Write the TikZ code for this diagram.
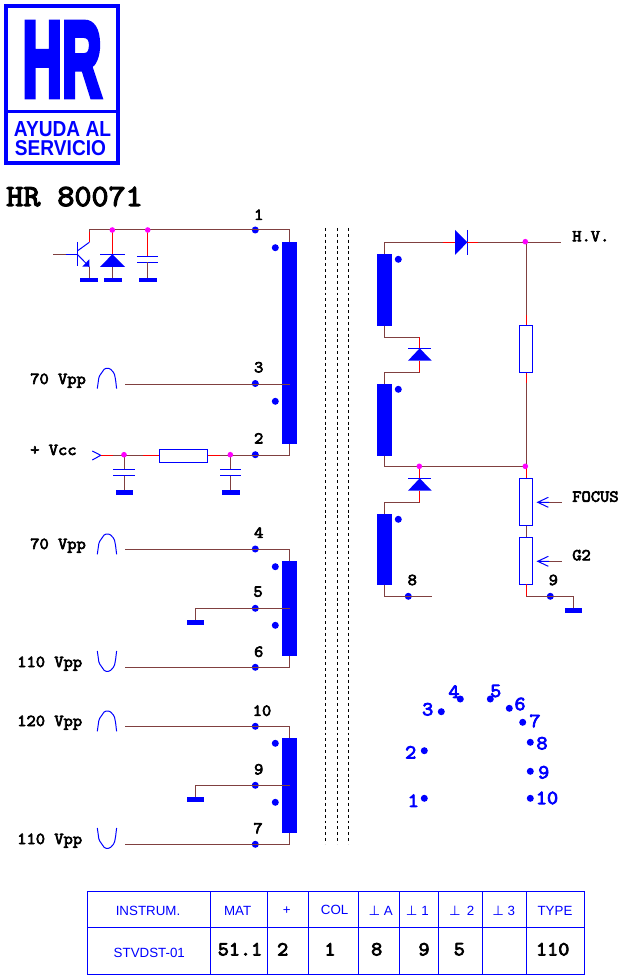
\documentclass[tikz,border=0pt]{standalone}
\usepackage{fontspec}
\setmainfont{Liberation Sans}
\setmonofont[FakeBold=4,FakeStretch=1.08]{Latin Modern Mono}
\newfontfamily\logofont[UprightFont=* Bold,FakeBold=6]{Liberation Sans}
\newfontfamily\perpfont{DejaVu Sans}
\definecolor{wirebrown}{RGB}{128,64,64}
\definecolor{jointpink}{RGB}{255,0,255}
\tikzset{
	wire/.style={line width=0.75pt, color=wirebrown},
	hot/.style={line width=0.75pt, color=red},
	part/.style={line width=0.75pt, color=blue},
	coil/.style={fill=blue, draw=none},
	resistor/.style={line width=0.75pt, draw=blue, fill=white},
	label/.style={font=\ttfamily\fontsize{12.5}{12.5}\selectfont, anchor=base west, inner sep=0pt},
	pinlabel/.style={font=\ttfamily\fontsize{12.5}{12.5}\selectfont, inner sep=0pt},
	socket/.style={font=\ttfamily\fontsize{15}{15}\selectfont, color=blue, inner sep=0pt},
	head/.style={font=\fontsize{10}{10}\selectfont, color=blue, inner sep=0pt},
	cell/.style={font=\ttfamily\fontsize{15}{15}\selectfont, inner sep=0pt},
	isolation/.style={line width=0.75pt, dash pattern=on 2.2pt off 2.2pt}
}
\def\pindot(#1,#2){\fill[blue] (#1,#2) circle (3.5);}
\def\joint(#1,#2){\fill[jointpink] (#1,#2) circle (2.8);}
\def\earth(#1,#2,#3){\fill[blue] (#1,#2) rectangle (#3,#2+4.5);}
\def\pulseup(#1,#2){\draw[part,shift={(#1,#2)},rounded corners=1] (0,20.3) -- (1.7,8.3) -- (7.5,0) -- (12.5,0) -- (17,5) -- (18.3,11.7) -- (19.3,20.3);}
\def\pulsedown(#1,#2){\draw[part,shift={(#1,#2)},rounded corners=1] (0,0) -- (1.7,12) -- (7.5,20.3) -- (12.5,20.3) -- (17,15.3) -- (18.3,8.6) -- (19.3,0);}

\begin{document}
\begin{tikzpicture}[x=0.75pt,y=-0.75pt]
	\useasboundingbox (0,0) rectangle (626,980);
	%%%%% LOGO %%%%%
	
	\draw[line width=2.6pt, color=blue] (5.8,5.8) rectangle (118,163.2);
	\draw[line width=2.6pt, color=blue] (5.8,111.7) -- (118,111.7);
	\node[inner sep=0pt, color=blue] (logohr) at (62,59.5) {\resizebox{59.25pt}{55pt}{\logofont HR}};
	\node[inner sep=0pt, color=blue] (logoayuda) at (62.5,129.5) {\resizebox{72.75pt}{11.25pt}{\bfseries AYUDA AL}};
	\node[inner sep=0pt, color=blue] (logoservicio) at (60.5,147.7) {\resizebox{68.25pt}{11.25pt}{\bfseries SERVICIO}};
	\node[inner sep=0pt, anchor=base west, font=\ttfamily\fontsize{23}{23}\selectfont] (title) at (6,206) {HR 80071};
	
	%%%%% COILS %%%%%
	
	\fill[coil] (282,242) rectangle (296.7,444);
	\fill[coil] (282,561) rectangle (296.7,655.7);
	\fill[coil] (282,738) rectangle (296.7,832.7);
	\fill[coil] (377,254) rectangle (392,325.7);
	\fill[coil] (377,384) rectangle (392,455.7);
	\fill[coil] (377,514) rectangle (392,584.7);
	
	\pindot(275.3,247.7)
	\pindot(275.3,401.3)
	\pindot(275.3,566.7)
	\pindot(275.3,625.3)
	\pindot(275.3,743.3)
	\pindot(275.3,802.3)
	\pindot(398.3,259.3)
	\pindot(398.3,389.3)
	\pindot(398.3,519.3)
	
	\pindot(255.3,230)
	\pindot(255.3,383.5)
	\pindot(255.3,454.7)
	\pindot(255.3,549)
	\pindot(255.3,608.3)
	\pindot(255.3,667.3)
	\pindot(255.3,726.3)
	\pindot(255.3,785.3)
	\pindot(255.3,844.3)
	\pindot(408.3,596.3)
	\pindot(550.3,596.3)
	
	%%%%% PRIMARY %%%%%
	
	\draw[hot] (89.3,242.3) -- (89.3,232);
	\draw[wire] (89.3,232) -- (89.3,230) -- (289.3,230) -- (289.3,242);
	\draw[hot] (112.3,232) -- (112.3,254);
	\draw[hot] (147.7,232) -- (147.7,256);
	
	\draw[wire] (53.3,254.3) -- (66,254.3);
	\draw[part] (66,254.3) -- (77.3,254.3);
	\draw[part] (77.3,242) -- (77.3,265.7);
	\draw[part] (77.3,251) -- (89.3,242.3);
	\draw[part] (77.3,254.3) -- (89.3,266.7);
	\fill[blue] (89.3,259.3) -- (82.3,266.7) -- (89.3,266.7) -- cycle;
	\draw[wire] (89.3,266.7) -- (89.3,278);
	\earth(80,278,98)
	
	\draw[part] (100,254.3) -- (125,254.3);
	\fill[blue] (112.3,254.3) -- (100,267) -- (125,267) -- cycle;
	\draw[wire] (112.3,267) -- (112.3,278);
	\earth(104,278,122)
	
	\draw[part] (137,256.3) -- (158,256.3);
	\draw[part] (137,262.3) -- (158,262.3);
	\draw[wire] (147.7,262.3) -- (147.7,278);
	\earth(139,278,157)
	
	\draw[wire] (125,384.3) -- (290,384.3);
	
	\draw[part] (92.3,451) -- (100.7,455.3) -- (92.3,460);
	\draw[hot] (100.7,455.3) -- (113,455.3);
	\draw[wire] (113,455.3) -- (143,455.3);
	\draw[hot] (143,455.3) -- (159.3,455.3);
	\draw[hot] (207.7,455.3) -- (220,455.3);
	\draw[wire] (220,455.3) -- (289.3,455.3) -- (289.3,444);
	\draw[resistor] (159.3,449.3) rectangle (207.7,462.7);
	
	\draw[wire] (124,455.3) -- (124,469.3);
	\draw[part] (113,469.3) -- (135,469.3);
	\draw[part] (113,475.7) -- (135,475.7);
	\draw[wire] (124,475.7) -- (124,490);
	\earth(116,490,133)
	
	\draw[wire] (230.3,455.3) -- (230.3,469.3);
	\draw[part] (220,469.3) -- (241,469.3);
	\draw[part] (220,475.7) -- (241,475.7);
	\draw[wire] (230.3,475.7) -- (230.3,490);
	\earth(222,490,240)
	
	\draw[wire] (125,549.3) -- (289.3,549.3) -- (289.3,561);
	\draw[wire] (195.3,620) -- (195.3,608.3) -- (290,608.3);
	\earth(187,620,204)
	\draw[wire] (125,667.3) -- (289.3,667.3) -- (289.3,655.7);
	
	\draw[wire] (125,726.3) -- (289.3,726.3) -- (289.3,738);
	\draw[wire] (195.3,797) -- (195.3,785.3) -- (290,785.3);
	\earth(187,797,204)
	\draw[wire] (125,844.3) -- (289.3,844.3) -- (289.3,832.7);
	
	\pulseup(97.3,368.3)
	\pulseup(97.3,534)
	\pulsedown(97.3,651)
	\pulseup(97.3,711)
	\pulsedown(97.3,828)
	
	\draw[isolation] (325.7,228) -- (325.7,844);
	\draw[isolation] (337.3,228) -- (337.3,844);
	\draw[isolation] (348.7,228) -- (348.7,844);
	
	%%%%% SECONDARY %%%%%
	
	\draw[wire] (384.3,254) -- (384.3,242.3) -- (443.3,242.3);
	\draw[hot] (443.3,242.3) -- (455,242.3);
	\fill[blue] (455,230) -- (467.3,242.3) -- (455,255) -- cycle;
	\draw[part] (467.3,230) -- (467.3,255);
	\draw[hot] (467.3,242.3) -- (477.7,242.3);
	\draw[wire] (477.7,242.3) -- (561,242.3);
	
	\draw[wire] (384.3,325.7) -- (384.3,337.3) -- (419.7,337.3);
	\draw[hot] (419.7,337.3) -- (419.7,348.3);
	\draw[part] (408,348.3) -- (431.3,348.3);
	\fill[blue] (419.7,348.3) -- (408,360.7) -- (431.7,360.7) -- cycle;
	\draw[hot] (419.7,360.7) -- (419.7,372.3);
	\draw[wire] (419.7,372.3) -- (384.3,372.3) -- (384.3,384);
	
	\draw[wire] (384.3,455.7) -- (384.3,466.3) -- (526.3,466.3);
	\draw[hot] (419.7,466.3) -- (419.7,478.3);
	\draw[part] (408,478.3) -- (431.3,478.3);
	\fill[blue] (419.7,478.3) -- (408,490.7) -- (431.7,490.7) -- cycle;
	\draw[hot] (419.7,490.7) -- (419.7,502.3);
	\draw[wire] (419.7,502.3) -- (384.3,502.3) -- (384.3,514);
	\draw[wire] (384.3,584.7) -- (384.3,596.3) -- (431.7,596.3);
	
	\draw[wire] (526.3,242.3) -- (526.3,315);
	\draw[hot] (526.3,315) -- (526.3,325.3);
	\draw[resistor] (519.3,325.3) rectangle (532.7,372.7);
	\draw[hot] (526.3,372.7) -- (526.3,383.3);
	\draw[wire] (526.3,383.3) -- (526.3,466.3);
	\draw[hot] (526.3,466.3) -- (526.3,478.3);
	\draw[resistor] (519.3,478.3) rectangle (532.7,525.7);
	\draw[wire] (526.3,525.7) -- (526.3,537);
	\draw[resistor] (519.3,537) rectangle (532.7,584.3);
	\draw[hot] (526.3,584.3) -- (526.3,596.3);
	\draw[wire] (526.3,596.3) -- (573.3,596.3) -- (573.3,608.3);
	\earth(565,608.3,582)
	
	\draw[wire] (549,502.3) -- (561.7,502.3);
	\draw[part] (549,502.3) -- (537.7,502.3) (548.3,497.3) -- (537.7,502.3) -- (548.3,507.3);
	\draw[wire] (549,561.3) -- (561.7,561.3);
	\draw[part] (549,561.3) -- (537.7,561.3) (548.3,556.3) -- (537.7,561.3) -- (548.3,566.3);
	
	\joint(112.3,230)
	\joint(147.7,230)
	\joint(124,454.7)
	\joint(230.3,454.7)
	\joint(525.3,241.7)
	\joint(419.3,466.3)
	\joint(525.3,466.3)
	
	%%%%% LABELS %%%%%
	
	\node[pinlabel] (pinone) at (258.7,214.7) {1};
	\node[pinlabel] (pinthree) at (258.7,367.3) {3};
	\node[pinlabel] (pintwo) at (258.7,438.3) {2};
	\node[pinlabel] (pinfour) at (258.7,532.7) {4};
	\node[pinlabel] (pinfive) at (258,591.7) {5};
	\node[pinlabel] (pinsix) at (258.7,651.7) {6};
	\node[pinlabel] (pinten) at (262,710.7) {10};
	\node[pinlabel] (pinnine) at (258.7,769.3) {9};
	\node[pinlabel] (pinseven) at (258,828.3) {7};
	\node[pinlabel] (pineight) at (412.3,580) {8};
	\node[pinlabel] (pinhvnine) at (553.3,580) {9};
	
	\node[label] (vppa) at (30,384) {70 Vpp};
	\node[label] (vcc) at (30,455) {+ Vcc};
	\node[label] (vppb) at (30,549) {70 Vpp};
	\node[label] (vppc) at (17,667) {110 Vpp};
	\node[label] (vppd) at (17,726) {120 Vpp};
	\node[label] (vppe) at (17,844) {110 Vpp};
	\node[label] (hv) at (572,241.3) {H.V.};
	\node[label] (focus) at (572,501.7) {FOCUS};
	\node[label] (gtwo) at (572,560.3) {G2};
	
	%%%%% SOCKET %%%%%
	
	\pindot(424.3,798.3)
	\pindot(424.3,750.7)
	\pindot(441.3,711.7)
	\pindot(460.3,699)
	\pindot(490.3,699)
	\pindot(509.3,708.3)
	\pindot(522.7,722.3)
	\pindot(530.3,742.3)
	\pindot(530.3,771.3)
	\pindot(530.3,798.3)
	
	\node[socket] (sockone) at (413.3,800.7) {1};
	\node[socket] (socktwo) at (410.7,752.3) {2};
	\node[socket] (sockthree) at (427.7,709.3) {3};
	\node[socket] (sockfour) at (454,691.7) {4};
	\node[socket] (sockfive) at (495.7,691) {5};
	\node[socket] (socksix) at (520,704) {6};
	\node[socket] (sockseven) at (535,721) {7};
	\node[socket] (sockeight) at (542,743.3) {8};
	\node[socket] (socknine) at (543.7,772.3) {9};
	\node[socket] (sockten) at (547,798) {10};
	
	%%%%% TABLE %%%%%
	
	\draw[part] (87.3,891.3) rectangle (584,974);
	\draw[part] (87.3,927.3) -- (584,927.3);
	\draw[part] (210.3,891.3) -- (210.3,974);
	\draw[part] (267.3,891.3) -- (267.3,974);
	\draw[part] (308.3,891.3) -- (308.3,974);
	\draw[part] (358.3,891.3) -- (358.3,974);
	\draw[part] (399.3,891.3) -- (399.3,974);
	\draw[part] (438.3,891.3) -- (438.3,974);
	\draw[part] (482.3,891.3) -- (482.3,974);
	\draw[part] (526.3,891.3) -- (526.3,974);
	
	\node[head] (instrum) at (148,910.7) {INSTRUM.};
	\node[head] (mat) at (237.7,910.7) {MAT};
	\node[head] (plus) at (286.7,910.7) {+};
	\node[head] (col) at (334.7,910) {COL};
	\node[head] (perpa) at (380.7,910.7) {{\perpfont ⊥} A};
	\node[head] (perpb) at (417.3,910.7) {{\perpfont ⊥} 1};
	\node[head] (perpc) at (461.7,910.7) {{\perpfont ⊥} \,2};
	\node[head] (perpd) at (503.7,910.7) {{\perpfont ⊥} 3};
	\node[head] (type) at (555,910.7) {TYPE};
	\node[head] (stvdst) at (149.3,953.3) {STVDST-01};
	\node[cell] (valmat) at (240,949.3) {51.1};
	\node[cell] (valplus) at (282.7,949.3) {2};
	\node[cell] (valcol) at (330,949.3) {1};
	\node[cell] (vala) at (376.7,949.3) {8};
	\node[cell] (valone) at (424,949.3) {9};
	\node[cell] (valtwo) at (459.3,949.3) {5};
	\node[cell] (valtype) at (552.7,949.3) {110};
	
	%%%%% END %%%%%
\end{tikzpicture}
\end{document}
